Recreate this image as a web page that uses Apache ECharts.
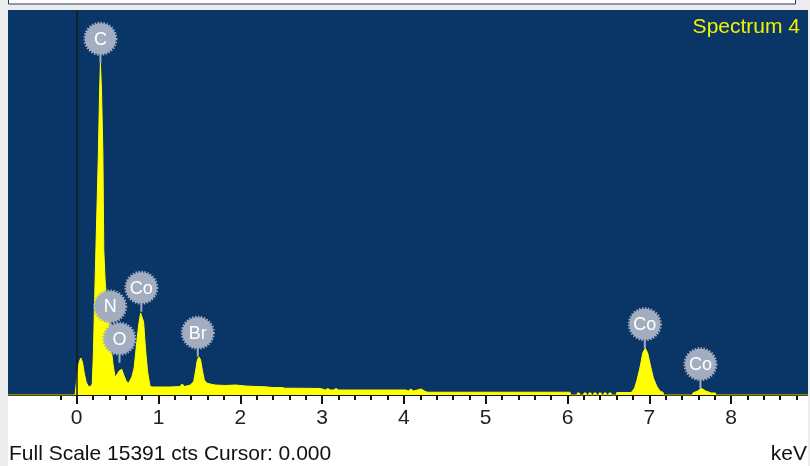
<!DOCTYPE html>
<html>
<head>
<meta charset="utf-8">
<script src="https://cdn.jsdelivr.net/npm/echarts@6/dist/echarts.min.js"></script>
<style>
  html, body { margin: 0; padding: 0; background: #ececec; }
  #chart { width: 810px; height: 466px; }
</style>
</head>
<body>
<div id="chart"></div>
<script>
// EDS spectrum: energy (keV) vs counts
const fullScaleCounts = 15391;
const cursorKeV = 0;
const spectrumName = 'Spectrum 4';

const energyKeV = [
  -0.84, -0.02, 0.005, 0.03, 0.05, 0.07, 0.09, 0.115, 0.14, 0.165, 0.19,
  0.204, 0.225, 0.265, 0.28, 0.29, 0.303, 0.32, 0.331, 0.347, 0.366, 0.39,
  0.408, 0.427, 0.445, 0.47, 0.494, 0.518, 0.55, 0.575, 0.605, 0.632, 0.655,
  0.675, 0.702, 0.727, 0.757, 0.781, 0.796, 0.818, 0.842, 0.867, 0.897,
  0.93, 1.02, 1.14, 1.26, 1.29, 1.32, 1.39, 1.43, 1.455, 1.475, 1.495, 1.515,
  1.535, 1.56, 1.59, 1.63, 1.69, 1.82, 1.94, 2.06, 2.18, 2.30, 2.39, 2.50,
  2.52, 2.55, 2.73, 2.98, 3.04, 3.07, 3.10, 3.14, 3.17, 3.20, 3.71, 4.02,
  4.06, 4.08, 4.12, 4.21, 4.25, 4.29, 5.18, 6.03, 6.04,
  6.118, 6.119, 6.145, 6.146,
  6.200, 6.201, 6.227, 6.228,
  6.261, 6.262, 6.288, 6.289,
  6.322, 6.323, 6.349, 6.350,
  6.384, 6.385, 6.411, 6.412,
  6.445, 6.446, 6.472, 6.473,
  6.506, 6.507, 6.533, 6.534,
  6.598, 6.602, 6.78, 6.82, 6.85, 6.89, 6.92, 6.95, 6.98, 7.015, 7.05, 7.09,
  7.13, 7.17, 7.172, 7.53, 7.532, 7.59, 7.635, 7.69, 7.76, 7.81, 7.812, 8.94
];

const counts = [
  0, 0, 800, 1320, 1480, 1320, 920, 520, 360, 320, 440,
  1680, 4600, 9680, 12200, 13280, 12200, 9680, 5800, 4600, 3800, 3080,
  2400, 1720, 1200, 700, 760, 960, 1030, 800, 560, 470, 600,
  730, 1080, 1880, 2800, 3280, 3330, 2920, 1800, 920, 340,
  320, 320, 320, 340, 440, 340, 400, 540, 1000, 1400, 1520, 1400,
  1000, 600, 480, 440, 400, 380, 400, 360, 340, 330, 300, 300,
  360, 270, 270, 260, 200, 260, 200, 200, 260, 200, 200, 200,
  160, 240, 160, 240, 160, 110, 110, 110, 0,
  0, 80, 80, 0,
  0, 80, 80, 0,
  0, 80, 80, 0,
  0, 80, 80, 0,
  0, 80, 80, 0,
  0, 80, 80, 0,
  0, 80, 80, 0,
  0, 100, 100, 280, 600, 1160, 1680, 1870, 1680, 1160, 680, 360,
  160, 100, 0, 0, 80, 160, 270, 160, 80, 80, 0, 0
];

// Element identifications: line energy and the count level the marker points at
const peakLabels = ['C', 'N', 'O', 'Co', 'Br', 'Co', 'Co'];
const peakKeV    = [0.29, 0.41, 0.523, 0.79, 1.48, 6.945, 7.625];
const peakCounts = [13280, 2580, 1290, 3330, 1530, 1870, 270];

// Axis ticks (keV)
const majorTicks = [0, 1, 2, 3, 4, 5, 6, 7, 8];
const minorTicks = [];
for (let k = -1; k <= 44; k++) minorTicks.push(+(k * 0.2).toFixed(1));

const FONT = "'Liberation Sans', Arial, sans-serif";
const BADGE = '#a3adc0';

const chart = echarts.init(document.getElementById('chart'), null, { renderer: 'canvas' });

chart.setOption({
  animation: false,
  backgroundColor: '#ffffff',
  grid: {
    left: 8, right: 2, top: 10, bottom: 71,
    show: true, backgroundColor: '#0a3567', borderWidth: 0
  },
  xAxis: [
    {
      type: 'value', min: -0.84, max: 8.94, position: 'bottom',
      axisLine: { show: true, onZero: false, lineStyle: { color: '#111', width: 2 } },
      axisTick: { show: true, customValues: majorTicks, length: 9, lineStyle: { color: '#111', width: 2 } },
      axisLabel: { show: true, customValues: majorTicks, margin: 13, fontSize: 21, color: '#222', fontFamily: FONT },
      splitLine: { show: false }
    },
    {
      type: 'value', min: -0.84, max: 8.94, position: 'bottom', offset: 0,
      axisLine: { show: false, onZero: false },
      axisTick: { show: true, customValues: minorTicks, length: 5, lineStyle: { color: '#111', width: 2 } },
      axisLabel: { show: false },
      splitLine: { show: false }
    }
  ],
  yAxis: {
    type: 'value', min: 0, max: fullScaleCounts, show: false,
    splitLine: { show: false }
  },
  series: [
    {
      type: 'line',
      name: spectrumName,
      xAxisIndex: 0,
      data: energyKeV.map((e, i) => [e, counts[i]]),
      showSymbol: false,
      symbol: 'none',
      lineStyle: { color: '#ffff00', width: 1 },
      areaStyle: { color: '#ffff00', opacity: 1 },
      z: 2,
      markLine: {
        silent: true,
        symbol: 'none',
        label: { show: false },
        lineStyle: { color: '#1a1a1a', width: 1.5, type: 'solid' },
        data: [{ xAxis: cursorKeV }]
      }
    },
    {
      type: 'custom',
      xAxisIndex: 0,
      data: peakKeV.map((e, i) => [e, peakCounts[i]]),
      z: 5,
      renderItem: function (params, api) {
        const p = api.coord([api.value(0), api.value(1)]);
        const cy = p[1] - 24;
        return {
          type: 'group',
          children: [
            { type: 'line', shape: { x1: p[0], y1: p[1], x2: p[0], y2: cy }, style: { stroke: BADGE, lineWidth: 2 } },
            { type: 'circle', shape: { cx: p[0], cy: cy, r: 15.5 }, style: { fill: BADGE } },
            { type: 'circle', shape: { cx: p[0], cy: cy, r: 16 }, style: { fill: null, stroke: BADGE, lineWidth: 2, lineDash: [1.5, 1.5] } },
            {
              type: 'text',
              style: {
                text: peakLabels[params.dataIndex], x: p[0], y: cy + 1,
                align: 'center', verticalAlign: 'middle',
                fill: '#ffffff', fontSize: 18, fontFamily: FONT
              }
            }
          ]
        };
      }
    }
  ],
  graphic: [
    { type: 'rect', shape: { x: 0, y: 0, width: 810, height: 10 }, style: { fill: '#ececec' }, z: 10 },
    { type: 'rect', shape: { x: 8.5, y: -4, width: 787, height: 8 }, style: { fill: '#ffffff', stroke: '#1c3a66', lineWidth: 1 }, z: 11 },
    { type: 'rect', shape: { x: 0, y: 0, width: 8, height: 466 }, style: { fill: '#ececec' }, z: 10 },
    { type: 'rect', shape: { x: 808, y: 0, width: 2, height: 466 }, style: { fill: '#ececec' }, z: 10 },
    {
      type: 'text', x: 800, y: 27, z: 12,
      style: { text: spectrumName, align: 'right', verticalAlign: 'middle', fill: '#f2f200', fontSize: 21, fontFamily: FONT }
    },
    {
      type: 'text', x: 9, y: 454, z: 12,
      style: {
        text: 'Full Scale ' + fullScaleCounts + ' cts Cursor: ' + cursorKeV.toFixed(3),
        align: 'left', verticalAlign: 'middle', fill: '#111', fontSize: 21, fontFamily: FONT
      }
    },
    {
      type: 'text', x: 807, y: 454, z: 12,
      style: { text: 'keV', align: 'right', verticalAlign: 'middle', fill: '#111', fontSize: 21, fontFamily: FONT }
    }
  ]
});
</script>
</body>
</html>
